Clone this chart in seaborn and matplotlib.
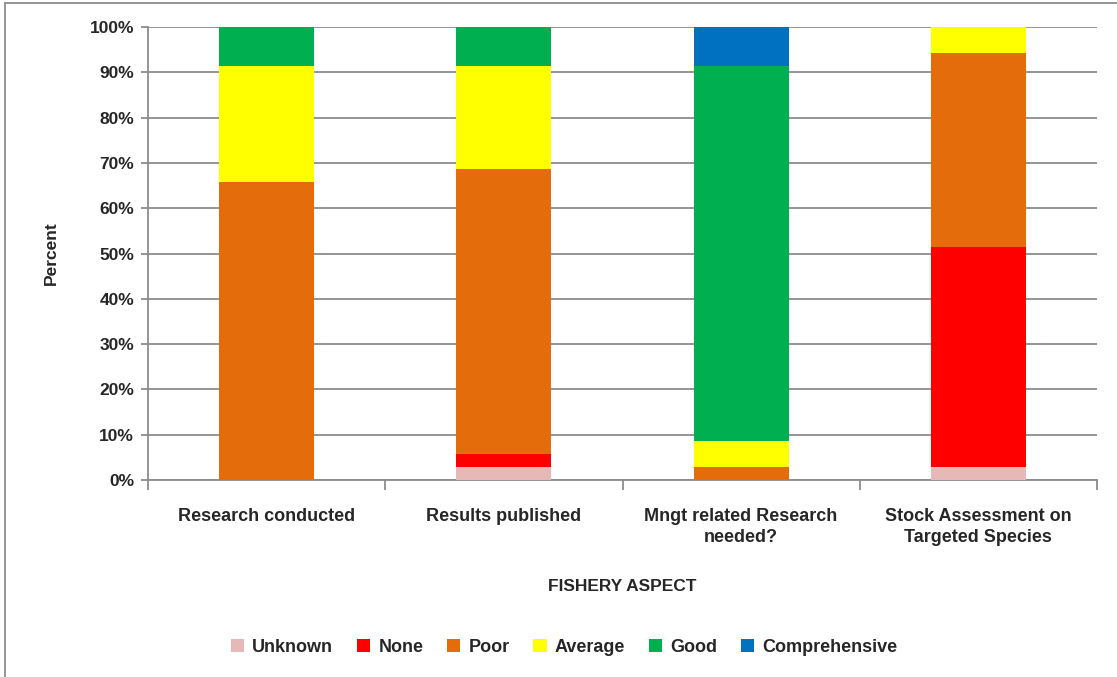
"""Stacked percent bars per fishery aspect."""

import matplotlib
matplotlib.use("Agg")
import matplotlib.pyplot as plt
from matplotlib.lines import Line2D
from matplotlib.patches import Patch
from matplotlib.ticker import FixedLocator, PercentFormatter
import numpy as np
import pandas as pd
import seaborn as sns

categories = [
    "Research conducted",
    "Results published",
    "Mngt related Research\nneeded?",
    "Stock Assessment on\nTargeted Species",
]
levels = ["Unknown", "None", "Poor", "Average", "Good", "Comprehensive"]
unknown = [0.0, 2.86, 0.0, 2.86]
none = [0.0, 2.86, 0.0, 48.57]
poor = [65.71, 62.86, 2.86, 42.86]
average = [25.71, 22.86, 5.71, 5.71]
good = [8.57, 8.57, 82.86, 0.0]
comprehensive = [0.0, 0.0, 8.57, 0.0]
colors = ["#E6B9B8", "#FF0000", "#E46C0A", "#FFFF00", "#00B050", "#0070C0"]

series = [unknown, none, poor, average, good, comprehensive]

sns.set_style("white")
plt.rcParams["font.family"] = ["Liberation Sans", "DejaVu Sans"]
plt.rcParams["font.weight"] = "bold"

fig = plt.figure(figsize=(11.17, 6.77), dpi=100)
ax = fig.add_axes([148 / 1117, 1 - 480 / 677, (1097 - 148) / 1117, (480 - 27) / 677])

bottom = np.zeros(len(categories))
for name, vals, col in zip(levels, series, colors):
    df = pd.DataFrame({"aspect": categories, "pct": vals})
    sns.barplot(data=df, x="aspect", y="pct", order=categories, color=col,
                bottom=bottom, width=0.4, ax=ax, saturation=1, zorder=3,
                linewidth=0, errorbar=None)
    bottom = bottom + np.array(vals)

ax.set_ylim(0, 100)
ax.set_xlim(-0.5, len(categories) - 0.5)
ax.yaxis.set_major_locator(FixedLocator(np.arange(0, 101, 10)))
ax.yaxis.set_major_formatter(PercentFormatter(decimals=0))
ax.grid(axis="y", color="#8C8C8C", linewidth=1.3, zorder=0)
ax.set_axisbelow(True)

for side in ["top", "right"]:
    ax.spines[side].set_visible(False)
for side in ["left", "bottom"]:
    ax.spines[side].set_color("#8C8C8C")
    ax.spines[side].set_linewidth(1.3)

ax.tick_params(axis="y", length=5, width=1.3, color="#8C8C8C", left=True,
               labelsize=12.5, pad=5)
ax.tick_params(axis="x", which="major", length=0, labelsize=13, pad=20)
ax.set_xticks(np.arange(-0.5, len(categories), 1.0), minor=True)
ax.tick_params(axis="x", which="minor", length=7, width=1.3, color="#8C8C8C",
               bottom=True)
for lab in ax.get_xticklabels() + ax.get_yticklabels():
    lab.set_fontweight("bold")
for lab in ax.get_xticklabels():
    lab.set_linespacing(1.3)

ax.set_xlabel("FISHERY ASPECT", fontsize=12.5, fontweight="bold", labelpad=24)
ax.set_ylabel("Percent", fontsize=12.5, fontweight="bold", labelpad=22)

handles = [Patch(facecolor=c, edgecolor="none") for c in colors]
fig.legend(handles, levels, loc="center", bbox_to_anchor=(0.505, 1 - 647 / 677),
           ncol=6, frameon=False, handlelength=0.75,
           handleheight=0.75, handletextpad=0.45, columnspacing=1.3,
           prop={"weight": "bold", "size": 13})

# chart-area border (visible on left and top edges)
fig.add_artist(Line2D([5 / 1117, 1.0], [1 - 3 / 677, 1 - 3 / 677],
                      transform=fig.transFigure, color="#8C8C8C", linewidth=1.3))
fig.add_artist(Line2D([5 / 1117, 5 / 1117], [0.0, 1 - 3 / 677],
                      transform=fig.transFigure, color="#8C8C8C", linewidth=1.3))

fig.savefig("out.png", dpi=100)
